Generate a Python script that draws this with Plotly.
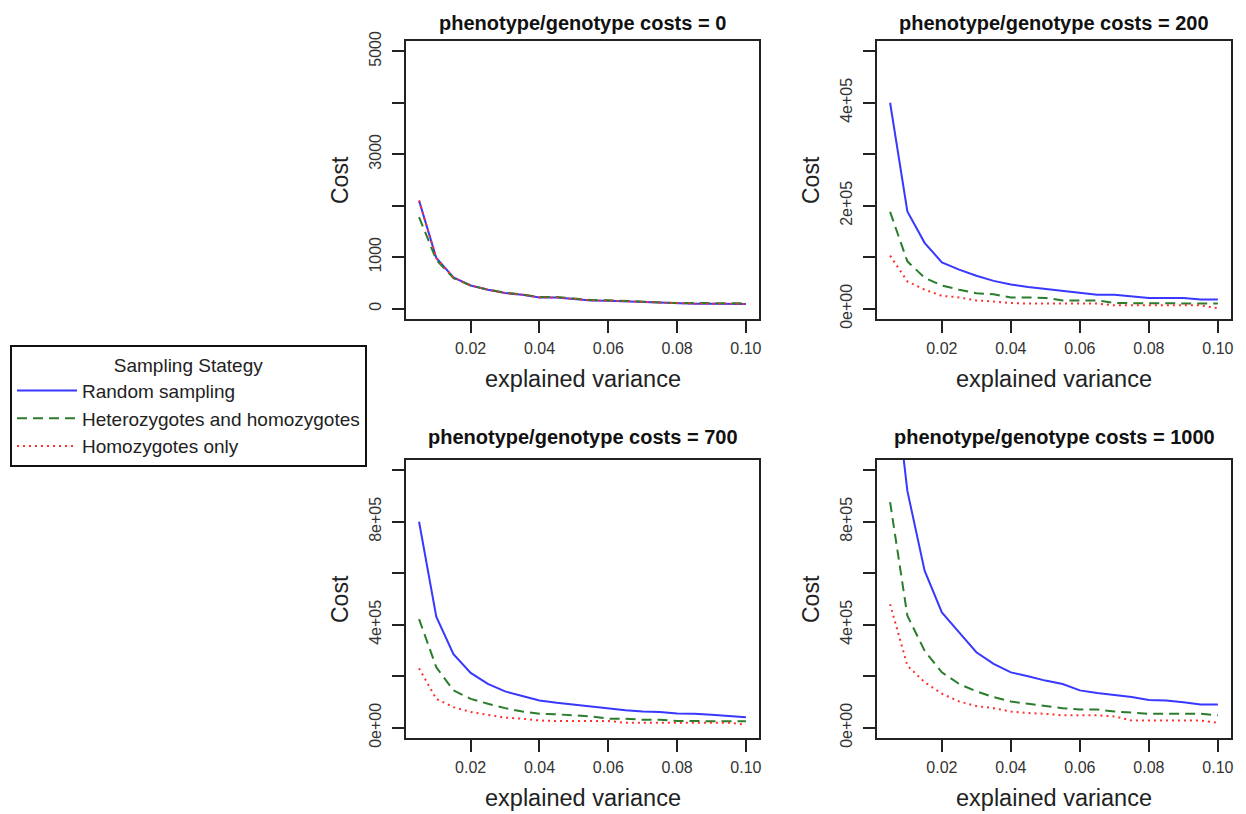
import plotly.graph_objects as go

# ---------------- data ----------------
expl_var = [0.005, 0.010, 0.015, 0.020, 0.025, 0.030, 0.035, 0.040, 0.045, 0.050,
            0.055, 0.060, 0.065, 0.070, 0.075, 0.080, 0.085, 0.090, 0.095, 0.100]

series_names = ["Random sampling", "Heterozygotes and homozygotes", "Homozygotes only"]

panel_titles = ["phenotype/genotype costs = 0", "phenotype/genotype costs = 200",
                "phenotype/genotype costs = 700", "phenotype/genotype costs = 1000"]

# cost = 0
c0_random = [2100, 985, 606, 452, 368, 303, 271, 219, 219, 187,
             160, 155, 142, 123, 123, 97, 97, 97, 97, 90]
c0_hethom = [1780, 950, 594, 452, 372, 310, 278, 228, 226, 196,
             168, 165, 150, 130, 128, 110, 110, 110, 110, 105]
c0_homo = [2100, 985, 606, 452, 368, 303, 271, 219, 219, 187,
           160, 155, 142, 123, 123, 97, 97, 97, 97, 90]

# cost = 200
c200_random = [400000, 189000, 128000, 90000, 76000, 64000, 54000, 47000, 42000, 38000,
               34000, 30000, 27000, 27000, 24000, 21000, 21000, 21000, 18000, 18000]
c200_hethom = [188000, 92000, 60000, 45000, 37000, 30000, 28000, 22000, 22000, 21000,
               16000, 16000, 16000, 11000, 11000, 11000, 11000, 10000, 10000, 10000]
c200_homo = [103000, 53000, 37000, 25000, 22000, 16000, 14000, 11000, 10000, 10000,
             10000, 10000, 10000, 6500, 6500, 6500, 6500, 6500, 6500, 1000]

# cost = 700
c700_random = [800000, 431000, 286000, 213000, 170000, 141000, 123000, 106000, 97000, 89000,
               81000, 74000, 68000, 63000, 61000, 55000, 54000, 50000, 45000, 41000]
c700_hethom = [422000, 235000, 145000, 112000, 93000, 76000, 63000, 54000, 52000, 48000,
               44000, 35000, 35000, 31000, 31000, 26000, 25000, 25000, 25000, 25000]
c700_homo = [231000, 112000, 80000, 61000, 50000, 39000, 35000, 28000, 26000, 26000,
             26000, 26000, 19000, 19000, 19000, 19000, 19000, 19000, 19000, 12000]

# cost = 1000
c1000_random = [1500000, 920000, 610000, 448000, 370000, 293000, 248000, 215000, 200000, 183000,
                170000, 145000, 135000, 128000, 119000, 108000, 106000, 99000, 90000, 90000]
c1000_hethom = [876000, 435000, 299000, 215000, 170000, 141000, 119000, 102000, 93000, 84000,
                76000, 71000, 71000, 63000, 58000, 54000, 54000, 54000, 54000, 48000]
c1000_homo = [480000, 241000, 177000, 132000, 102000, 84000, 76000, 63000, 57000, 54000,
              48000, 48000, 48000, 44000, 28000, 28000, 28000, 28000, 28000, 19000]

panels = [
    [c0_random, c0_hethom, c0_homo],
    [c200_random, c200_hethom, c200_homo],
    [c700_random, c700_hethom, c700_homo],
    [c1000_random, c1000_hethom, c1000_homo],
]

x_ticks = [0.02, 0.04, 0.06, 0.08, 0.10]
x_tick_text = ["0.02", "0.04", "0.06", "0.08", "0.10"]

y_ticks = [
    [0, 1000, 2000, 3000, 4000, 5000],
    [0, 100000, 200000, 300000, 400000, 500000],
    [0, 200000, 400000, 600000, 800000, 1000000],
    [0, 200000, 400000, 600000, 800000, 1000000],
]
y_tick_text = [
    ["0", "1000", "", "3000", "", "5000"],
    ["0e+00", "", "2e+05", "", "4e+05", ""],
    ["0e+00", "", "4e+05", "", "8e+05", ""],
    ["0e+00", "", "4e+05", "", "8e+05", ""],
]
y_max = [5000, 500000, 1000000, 1000000]

# ---------------- style ----------------
FONT = "Arial, Liberation Sans, sans-serif"
colors = ["#3838ff", "#2a7d2a", "#ff3030"]
dashes = ["solid", "10px,6px", "2px,4px"]
W, H = 1246, 814

# plot boxes in pixels (left, right, top, bottom)
boxes = [(406, 759, 41, 319), (877, 1231, 41, 319),
         (406, 759, 460, 738), (877, 1231, 460, 738)]


def fx(px):
    return px / W


def fy(py):
    return 1 - py / H


fig = go.Figure()

for i, (series, box) in enumerate(zip(panels, boxes)):
    n = "" if i == 0 else str(i + 1)
    xa, ya = "x" + n, "y" + n
    for j, vals in enumerate(series):
        fig.add_trace(go.Scatter(
            x=expl_var, y=vals, mode="lines", xaxis=xa, yaxis=ya,
            name=series_names[j], legendgroup=series_names[j], showlegend=(i == 0),
            line=dict(color=colors[j], width=2, dash=dashes[j]),
        ))
    l, r, t, b = box
    xr = 0.1 - 0.005
    ymx = y_max[i]
    fig.layout["xaxis" + n] = dict(
        domain=[fx(l), fx(r)], anchor=ya, automargin=False,
        range=[0.005 - 0.04 * xr, 0.1 + 0.04 * xr],
        tickvals=x_ticks, ticktext=x_tick_text,
        ticks="outside", ticklen=12, tickwidth=1.5, tickcolor="#222",
        showline=True, mirror=True, linecolor="#222", linewidth=2,
        showgrid=False, zeroline=False, ticklabelstandoff=2,
        tickfont=dict(family=FONT, size=16, color="#333"),
    )
    fig.layout["yaxis" + n] = dict(
        domain=[fy(b), fy(t)], anchor=xa, automargin=False,
        range=[-0.04 * ymx, 1.04 * ymx],
        tickvals=y_ticks[i], ticktext=y_tick_text[i], tickangle=-90,
        ticks="outside", ticklen=12, tickwidth=1.5, tickcolor="#222",
        showline=True, mirror=True, linecolor="#222", linewidth=2,
        showgrid=False, zeroline=False, ticklabelstandoff=5,
        tickfont=dict(family=FONT, size=16, color="#333"),
    )
    title_shift = 18 if i < 2 else 23
    fig.add_annotation(text="<b>" + panel_titles[i] + "</b>", xref=xa + " domain", yref=ya + " domain",
                       x=0.5, y=1, yshift=title_shift, xanchor="center", yanchor="middle",
                       showarrow=False, font=dict(family=FONT, size=20, color="#111"))
    fig.add_annotation(text="Cost", xref=xa + " domain", yref=ya + " domain",
                       x=0, y=0.5, xshift=-66, xanchor="center", yanchor="middle",
                       textangle=-90, showarrow=False,
                       font=dict(family=FONT, size=23, color="#222"))
    fig.add_annotation(text="explained variance", xref=xa + " domain", yref=ya + " domain",
                       x=0.5, y=0, yshift=-60, xanchor="center", yanchor="middle",
                       showarrow=False, font=dict(family=FONT, size=23.5, color="#222"))

fig.update_layout(
    width=W, height=H,
    margin=dict(l=0, r=0, t=0, b=0),
    paper_bgcolor="white", plot_bgcolor="white",
    showlegend=True,
    legend=dict(
        x=fx(10), y=fy(345), xanchor="left", yanchor="top",
        bordercolor="#111", borderwidth=2, bgcolor="white",
        font=dict(family=FONT, size=19, color="#222"),
        itemwidth=60,
        title=dict(text="Sampling Stategy", side="top center",
                   font=dict(family=FONT, size=19, color="#222")),
        tracegroupgap=0,
    ),
)

# remove the default 8px page margin so the figure sits at the window's top-left corner
fig.write_html("out.html", config={"displayModeBar": False},
               post_script="document.body.style.margin='0px';")
